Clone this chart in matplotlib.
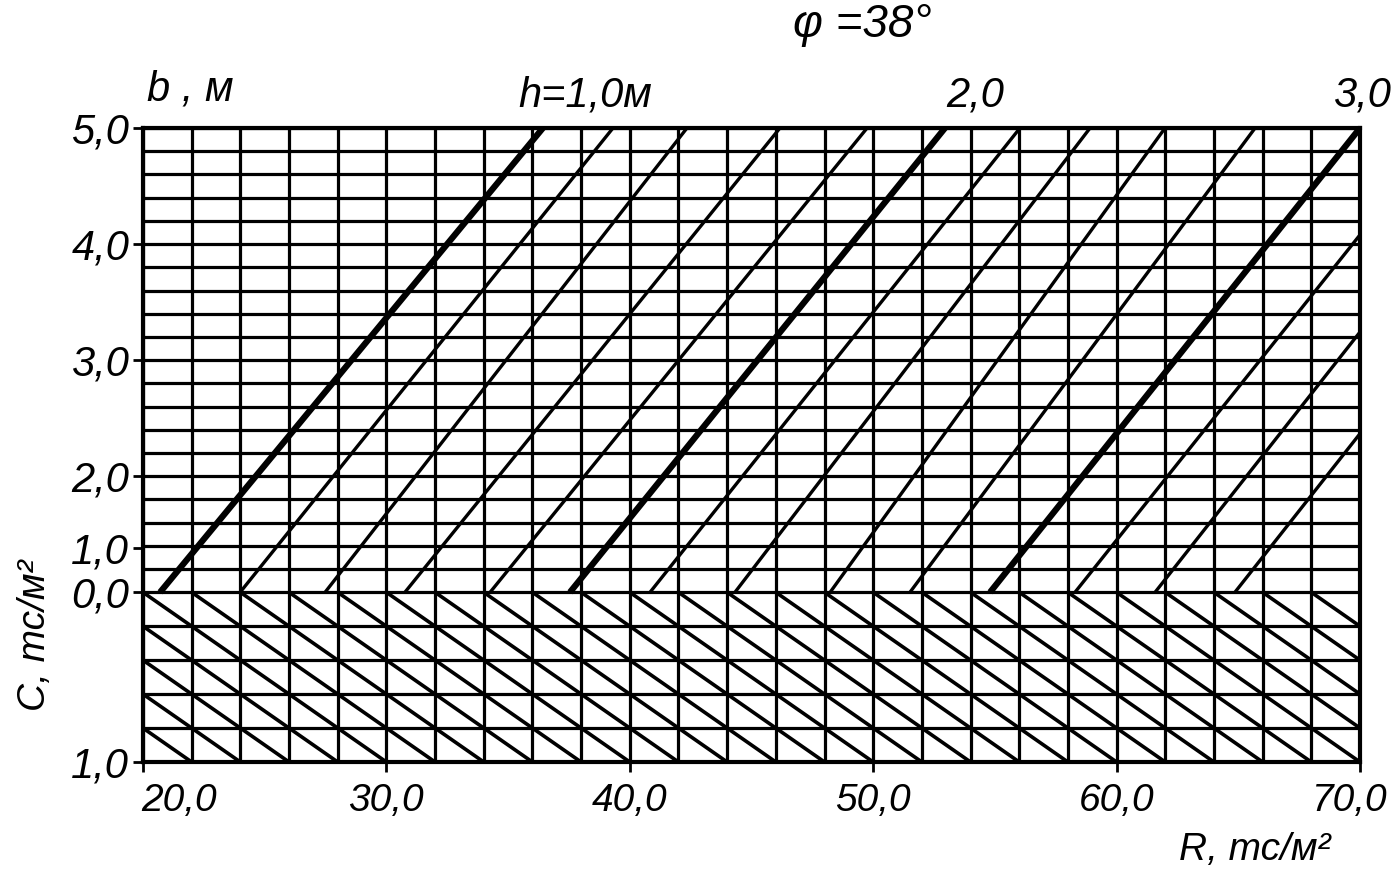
import matplotlib
matplotlib.use("Agg")
import matplotlib.pyplot as plt
import matplotlib.transforms as mtransforms

# ---- data ----
R_grid = [20, 22, 24, 26, 28, 30, 32, 34, 36, 38, 40, 42, 44, 46, 48,
          50, 52, 54, 56, 58, 60, 62, 64, 66, 68, 70]          # R, tc/m2 grid
C_rows = list(range(0, 21))                                     # upper grid rows (steps)
b_levels = [0.2, 0.4, 0.6, 0.8, 1.0]                            # b, m (lower part)
B_SCALE = 7.31                                                  # grid steps per 1 m of b

h_values = [1.0, 1.2, 1.4, 1.6, 1.8, 2.0, 2.2, 2.4, 2.6, 2.8, 3.0, 3.2, 3.4, 3.6]
h_R_bottom = [20.70, 23.99, 27.48, 30.76, 34.26, 37.54, 40.83, 44.32, 48.23,
              51.51, 54.80, 58.29, 61.58, 64.86]                 # R at C = 0,0
h_R_top = [36.43, 39.31, 42.35, 46.17, 49.75, 52.95, 56.03, 58.91, 61.99,
           65.69, 70.0, 73.5, 76.6, 79.9]                        # R at C = 5,0
thick_h = [1.0, 2.0, 3.0]

hatch_R0 = [12, 14, 16, 18, 20, 22, 24, 26, 28, 30, 32, 34, 36, 38, 40, 42,
            44, 46, 48, 50, 52, 54, 56, 58, 60, 62, 64, 66, 68]  # lower hatching starts
HATCH_DR = 10.0                                                  # R shift per 1 m of b

y_tick_pos = [20, 15, 10, 5, 1.9, 0, -1.0]
y_tick_lab = ["5,0", "4,0", "3,0", "2,0", "1,0", "0,0", "1,0"]
x_tick_pos = [20, 30, 40, 50, 60, 70]
x_tick_lab = ["20,0", "30,0", "40,0", "50,0", "60,0", "70,0"]
x_lab_pos = [21.5, 30.0, 40.0, 50.0, 60.0, 69.6]

FONT = ["Liberation Sans", "DejaVu Sans"]
plt.rcParams["font.family"] = FONT
plt.rcParams["font.style"] = "italic"
FS = 28

fig = plt.figure(figsize=(13.98, 8.72), dpi=100)
fig.patch.set_facecolor("white")
ax = fig.add_axes([143 / 1398, 1 - 762 / 872, (1360 - 143) / 1398, (762 - 128) / 872])
ax.set_xlim(20, 70)
ax.set_ylim(-B_SCALE, 20)

# grid
ax.vlines(R_grid, -B_SCALE, 20, color="black", lw=2.3, zorder=1)
ax.hlines(C_rows, 20, 70, color="black", lw=2.3, zorder=1)
ax.hlines([-b * B_SCALE for b in b_levels], 20, 70, color="black", lw=2.3, zorder=1)

# lower hatching
for r0 in hatch_R0:
    ax.plot([r0, r0 + HATCH_DR], [0, -B_SCALE], color="black", lw=2.6,
            solid_capstyle="butt", zorder=2)

# upper h-lines
for h, rb, rt in zip(h_values, h_R_bottom, h_R_top):
    lw = 4.5 if h in thick_h else 2.4
    ax.plot([rb, rt], [0, 20], color="black", lw=lw, solid_capstyle="butt", zorder=3)

for s in ax.spines.values():
    s.set_linewidth(3)
ax.set_xticks(x_tick_pos)
ax.set_xticklabels([])
y_ticks = [p if p >= 0 else -B_SCALE for p in y_tick_pos]
ax.set_yticks(y_ticks)
ax.set_yticklabels(y_tick_lab, fontsize=30)
ax.tick_params(axis="both", direction="out", length=7, width=2)
ax.tick_params(axis="y", pad=3)

trans = mtransforms.blended_transform_factory(ax.transData, ax.transAxes)
for xp, lab in zip(x_lab_pos, x_tick_lab):
    ax.text(xp, -0.062, lab, transform=trans, fontsize=FS, ha="center", va="center")

# titles / annotations
fig.text(35 / 1398, 1 - 635 / 872, "C, тс/м²", rotation=90, fontsize=FS,
         ha="center", va="center")
fig.text(1255 / 1398, 1 - 850 / 872, "R, тс/м²", fontsize=FS, ha="center", va="center")
fig.text(190 / 1398, 1 - 90 / 872, "b , м", fontsize=30, ha="center", va="center")
fig.text(585 / 1398, 1 - 95 / 872, "h=1,0м", fontsize=30, ha="center", va="center")
fig.text(975 / 1398, 1 - 95 / 872, "2,0", fontsize=30, ha="center", va="center")
fig.text(1362 / 1398, 1 - 95 / 872, "3,0", fontsize=30, ha="center", va="center")
fig.text(862 / 1398, 1 - 25 / 872, "φ =38°", fontsize=33, ha="center", va="center")

fig.savefig("out.png", dpi=100, facecolor="white")
